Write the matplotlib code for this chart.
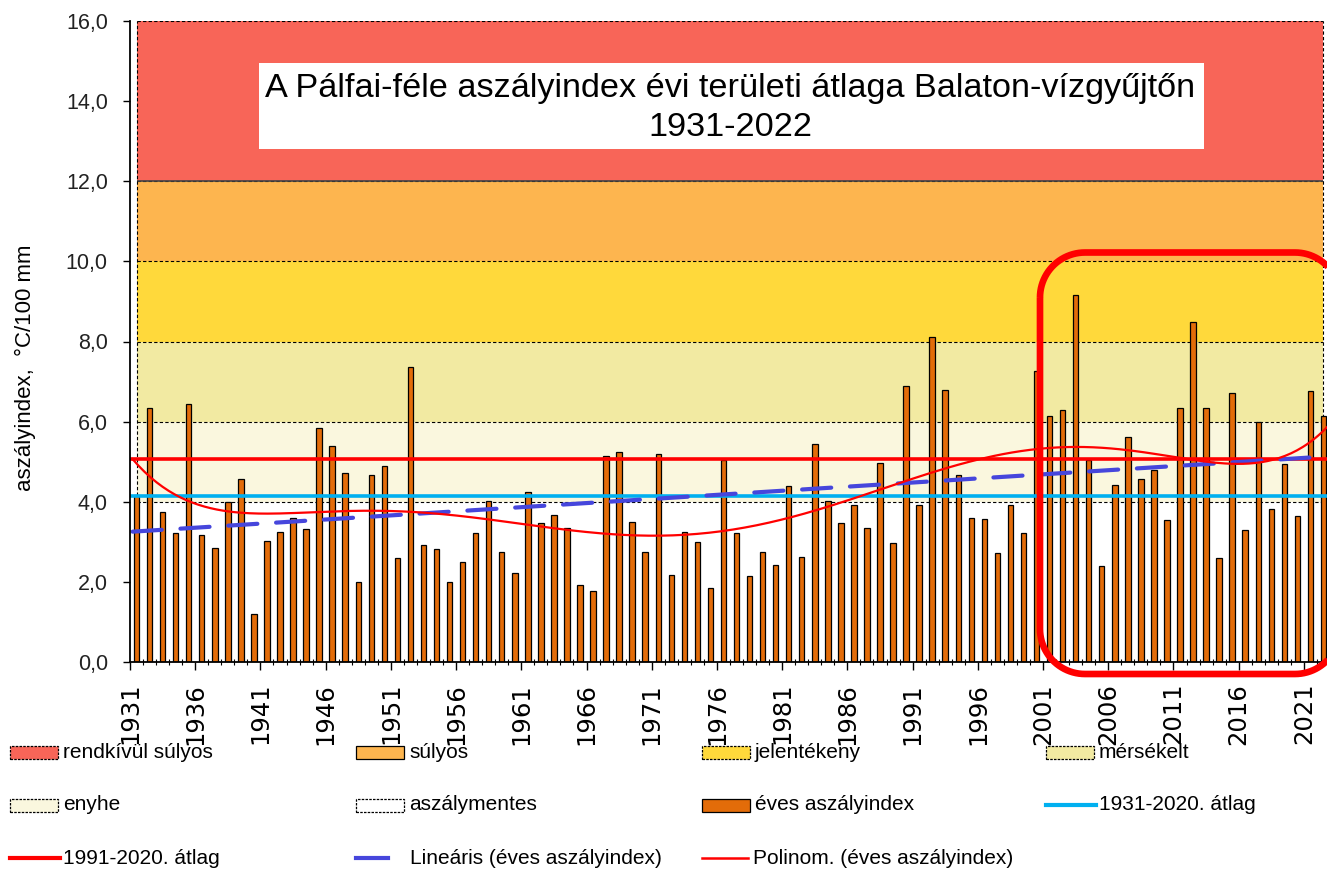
import matplotlib
matplotlib.use("Agg")
import matplotlib.pyplot as plt
from matplotlib.patches import Rectangle, Polygon
from matplotlib.lines import Line2D
import numpy as np

W, H = 1327, 874

years = list(range(1931, 2023))
aszalyindex = [4.18, 6.33, 3.75, 3.21, 6.43, 3.17, 2.85, 4.00, 4.57, 1.21,
               3.03, 3.24, 3.60, 3.32, 5.83, 5.39, 4.72, 1.99, 4.68, 4.89,
               2.60, 7.37, 2.92, 2.81, 1.99, 2.49, 3.21, 4.03, 2.74, 2.21,
               4.25, 3.46, 3.68, 3.35, 1.93, 1.78, 5.15, 5.25, 3.50, 2.74,
               5.18, 2.17, 3.25, 2.99, 1.85, 5.04, 3.21, 2.14, 2.74, 2.42,
               4.39, 2.63, 5.43, 4.03, 3.46, 3.93, 3.35, 4.97, 2.96, 6.90,
               3.93, 8.12, 6.80, 4.68, 3.60, 3.57, 2.71, 3.93, 3.21, 7.27,
               6.13, 6.29, 9.17, 5.04, 2.39, 4.43, 5.62, 4.57, 4.79, 3.54,
               6.33, 8.48, 6.33, 2.60, 6.72, 3.29, 5.98, 3.82, 4.93, 3.64,
               6.76, 6.15]

atlag_1931_2020 = 4.14
atlag_1991_2020 = 5.07

# drought categories (lower, upper)
band_names = ["aszálymentes", "enyhe", "mérsékelt", "jelentékeny", "súlyos", "rendkívül súlyos"]
band_low = [0, 4, 6, 8, 10, 12]
band_high = [4, 6, 8, 10, 12, 16]
band_colors = ["#FFFFFF", "#FAF7DE", "#F2EAA2", "#FFD93B", "#FDB54F", "#F86558"]

bar_color = "#E36C09"
cyan = "#00B0F0"
red = "#FF0000"
blue = "#4646DC"

fig = plt.figure(figsize=(W / 100, H / 100), dpi=100)
ax = fig.add_axes([130 / W, 1 - 662 / H, 1200 / W, 641 / H])

n = len(years)
x = np.arange(n)

# background bands (area from first to last category centre)
for lo, hi, c in zip(band_low, band_high, band_colors):
    ax.fill_between([0, n - 1], lo, hi, color=c, lw=0, zorder=0)
for lo, hi in zip(band_low, band_high):
    ax.hlines(hi, 0, n - 1, colors="black", linestyles=(0, (3, 2)), lw=0.8, zorder=1)
ax.hlines(12, 0, n - 1, colors="#444444", lw=1.2, zorder=1)
ax.vlines([0, n - 1], 0, 16, colors="black", linestyles=(0, (3, 2)), lw=0.8, zorder=1)

ax.bar(x, aszalyindex, width=0.42, color=bar_color, edgecolor="black", lw=0.9, zorder=2)

ax.axhline(atlag_1931_2020, color=cyan, lw=2.6, zorder=3)
ax.axhline(atlag_1991_2020, color=red, lw=2.6, zorder=3)

# trend lines fitted to the annual values (Excel style x = 1..n)
xt = np.linspace(-0.3, n - 0.5, 400)
lin = np.polyfit(x + 1, aszalyindex, 1)
ax.plot(xt, np.polyval(lin, xt + 1), color=blue, lw=3, dashes=(7, 4.5),
        dash_capstyle="round", zorder=4)
poly = np.polynomial.Polynomial.fit(x + 1, aszalyindex, 6)
ax.plot(xt, poly(xt + 1), color=red, lw=1.6, zorder=4)

ax.set_xlim(-0.5, n - 0.5)
ax.set_ylim(0, 16)

for s in ["top", "right"]:
    ax.spines[s].set_visible(False)
for s in ["left", "bottom"]:
    ax.spines[s].set_linewidth(1.3)
    ax.spines[s].set_zorder(5)

yt = np.arange(0, 17, 2)
ax.set_yticks(yt)
ax.set_yticklabels([f"{v:.1f}".replace(".", ",") for v in yt],
                   fontfamily="Liberation Sans", fontsize=15.5, color="#222222")
ax.tick_params(axis="y", direction="out", length=5, width=1, pad=11)

ax.set_xticks(np.arange(0, n, 5) - 0.5)
ax.set_xticklabels([str(y) for y in years[::5]], rotation=90,
                   fontfamily="DejaVu Sans", fontsize=17.5)
ax.set_xticks(np.arange(n) - 0.5, minor=True)
ax.tick_params(axis="x", which="major", direction="out", length=6, width=1, pad=9)
ax.tick_params(axis="x", which="minor", direction="inout", length=4, width=0.8)

fig.text(25 / W, 1 - 368 / H, "aszályindex,  °C/100 mm", rotation=90,
         ha="center", va="center", fontfamily="Liberation Sans", fontsize=16)

# title box
fig.patches.append(Rectangle((259 / W, 1 - 149 / H), (1204 - 259) / W, 86 / H,
                             transform=fig.transFigure, facecolor="white",
                             edgecolor="none", zorder=6))
fig.text(730 / W, 1 - 108 / H, "A Pálfai-féle aszályindex évi területi átlaga Balaton-vízgyűjtőn\n1931-2022",
         ha="center", va="center", fontfamily="Liberation Sans", fontsize=24.7,
         linespacing=1.34, zorder=7)

# red highlight frame (rounded rectangle sampled as a closed polygon, pixels)
x0, x1, ytop, ybot, r = 1040, 1340, 252.5, 674, 45
t = np.linspace(0, np.pi / 2, 24)
px = np.concatenate([x0 + r - r * np.cos(t), x1 - r + r * np.sin(t),
                     x1 - r + r * np.cos(t), x0 + r - r * np.sin(t)])
py = np.concatenate([ytop + r - r * np.sin(t), ytop + r - r * np.cos(t),
                     ybot - r + r * np.sin(t), ybot - r + r * np.cos(t)])
frame = Polygon(np.column_stack([px / W, 1 - py / H]), closed=True, fill=False,
                edgecolor=red, lw=4.8, joinstyle="round",
                transform=fig.transFigure, zorder=8)
fig.patches.append(frame)

# legend, drawn row by row as in the original
def fx(p):
    return p / W

def fy(p):
    return 1 - p / H

def leg_patch(lx, ly, color, label, ls="dashed"):
    lsty = (0, (2, 1)) if ls == "dashed" else "solid"
    fig.patches.append(Rectangle((fx(lx), fy(ly + 6.5)), 48 / W, 13 / H,
                                 transform=fig.transFigure, facecolor=color,
                                 edgecolor="black", lw=0.9, linestyle=lsty))
    fig.text(fx(lx + 53), fy(ly), label, ha="left", va="center",
             fontfamily="Liberation Sans", fontsize=15)

def leg_line(lx, ly, x2, color, label, lw, tx):
    fig.add_artist(Line2D([fx(lx), fx(x2)], [fy(ly), fy(ly)], color=color, lw=lw,
                          transform=fig.transFigure))
    fig.text(fx(tx), fy(ly), label, ha="left", va="center",
             fontfamily="Liberation Sans", fontsize=15)

cols = [10, 356, 702, 1046]
rows = [752, 805, 858]
leg_patch(cols[0], rows[0], band_colors[5], band_names[5])
leg_patch(cols[1], rows[0], band_colors[4], band_names[4], ls="solid")
leg_patch(cols[2], rows[0], band_colors[3], band_names[3])
leg_patch(cols[3], rows[0], band_colors[2], band_names[2])
leg_patch(cols[0], rows[1], band_colors[1], band_names[1])
leg_patch(cols[1], rows[1], band_colors[0], band_names[0])
leg_patch(cols[2], rows[1], bar_color, "éves aszályindex", ls="solid")
leg_line(cols[3], rows[1], cols[3] + 50, cyan, "1931-2020. átlag", 3, cols[3] + 53)
leg_line(cols[0], rows[2], cols[0] + 50, red, "1991-2020. átlag", 3, cols[0] + 53)
leg_line(cols[1], rows[2], cols[1] + 32, blue, "Lineáris (éves aszályindex)", 3, cols[1] + 54)
leg_line(cols[2], rows[2], cols[2] + 46, red, "Polinom. (éves aszályindex)", 1.8, cols[2] + 51)

fig.savefig("out.png", dpi=100)
